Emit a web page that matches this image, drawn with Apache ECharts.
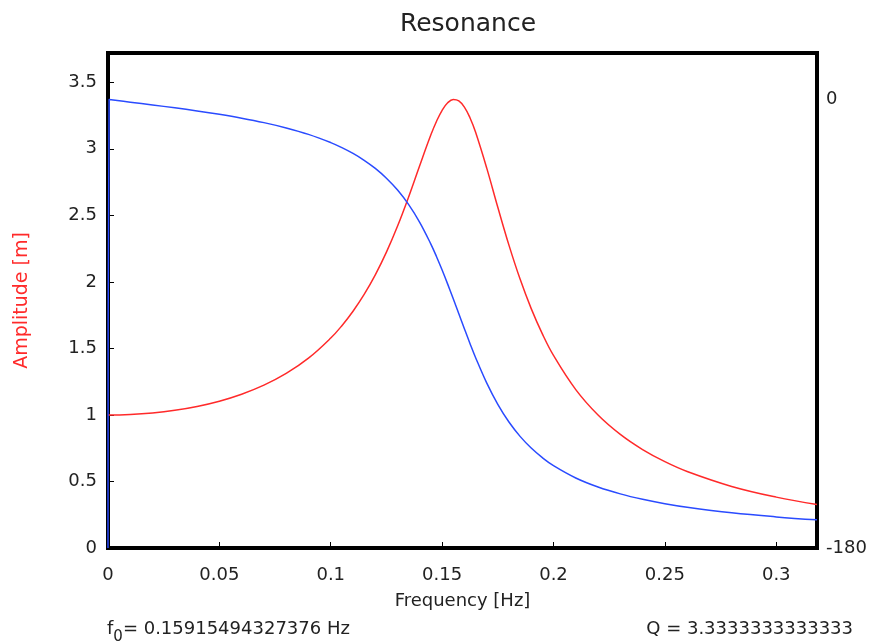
<!DOCTYPE html>
<html><head><meta charset="utf-8">
<script src="https://cdn.jsdelivr.net/npm/echarts@6/dist/echarts.min.js"></script>
<style>html,body{margin:0;padding:0;background:#fff}#c{width:875px;height:644px}</style>
</head><body><div id="c"></div>
<script>
var freq = [0, 0.0005, 0.01, 0.02, 0.03, 0.04, 0.05, 0.06, 0.07, 0.08, 0.09, 0.10, 0.105, 0.11, 0.115, 0.12, 0.125, 0.13, 0.135, 0.14, 0.145, 0.1475, 0.15, 0.1525, 0.155, 0.1575, 0.16, 0.1625, 0.165, 0.17, 0.175, 0.18, 0.185, 0.19, 0.195, 0.20, 0.21, 0.22, 0.23, 0.24, 0.25, 0.26, 0.28, 0.30, 0.3183];
var amplitude = [1.0, 1.0, 1.0038, 1.0153, 1.0351, 1.0640, 1.1035, 1.1557, 1.2236, 1.3116, 1.4264, 1.5776, 1.6710, 1.7795, 1.9056, 2.0525, 2.2232, 2.4195, 2.6403, 2.8770, 3.1070, 3.2073, 3.2893, 3.3457, 3.3707, 3.3602, 3.3137, 3.2337, 3.1261, 2.8567, 2.5607, 2.2762, 2.0207, 1.7988, 1.6090, 1.4471, 1.1903, 0.9993, 0.8536, 0.7397, 0.6488, 0.5750, 0.4628, 0.3824, 0.3269];
var phase = [-180, -0.05, -1.08, -2.19, -3.36, -4.60, -5.97, -7.51, -9.29, -11.41, -14.00, -17.30, -19.31, -21.65, -24.40, -27.66, -31.59, -36.36, -42.21, -49.40, -58.13, -63.09, -68.44, -74.10, -80.00, -86.01, -92.02, -97.90, -103.52, -113.74, -122.36, -129.45, -135.20, -139.89, -143.74, -146.94, -151.89, -155.52, -158.28, -160.45, -162.20, -163.63, -165.86, -167.51, -168.69];
var xTicks = [0, 0.05, 0.1, 0.15, 0.2, 0.25, 0.3];
var f0Text = '0.15915494327376';
var qText = '3.3333333333333';

var ampData = freq.map(function(f, i){ return [f, amplitude[i]]; });
var phaseData = freq.map(function(f, i){ return [f, phase[i]]; });
var peak = Math.max.apply(null, amplitude);
var leftMax = 3.72;
var rightMax = -180 + 180 * leftMax / peak;
var FONT = 'DejaVu Sans, sans-serif';

var chart = echarts.init(document.getElementById('c'));
chart.setOption({
  animation: false,
  backgroundColor: '#fff',
  title: { text: 'Resonance', left: 463, textAlign: 'center', top: 7,
    textStyle: { fontFamily: FONT, fontSize: 25, fontWeight: 'normal', color: '#222' } },
  grid: { left: 108, right: 58, top: 53, bottom: 96, containLabel: false, outerBoundsMode: 'none',
    show: true, borderColor: '#000', borderWidth: 4, backgroundColor: 'transparent', z: 1 },
  xAxis: {
    type: 'value', min: 0, max: 0.3183, interval: 0.05,
    name: 'Frequency [Hz]', nameLocation: 'middle', nameGap: 44,
    nameTextStyle: { fontFamily: FONT, fontSize: 18, color: '#222' },
    axisLine: { show: false },
    axisTick: { show: true, inside: true, length: 6, lineStyle: { color: '#000' }, customValues: xTicks },
    axisLabel: { fontFamily: FONT, fontSize: 18, color: '#222', margin: 18, customValues: xTicks },
    splitLine: { show: false }
  },
  yAxis: [{
    type: 'value', min: 0, max: leftMax, interval: 0.5, position: 'left',
    name: 'Amplitude [m]', nameLocation: 'middle', nameGap: 76, nameRotate: 90,
    nameTextStyle: { fontFamily: FONT, fontSize: 19, color: '#ff2a2a' },
    axisLine: { show: false },
    axisTick: { show: true, inside: true, length: 6, lineStyle: { color: '#000' } },
    axisLabel: { fontFamily: FONT, fontSize: 18, color: '#222', margin: 11, showMaxLabel: false, formatter: function(v){ return String(v); } },
    splitLine: { show: false }
  }, {
    type: 'value', min: -180, max: rightMax, interval: 180, position: 'right',
    name: 'Phase [deg]', nameLocation: 'middle', nameGap: 36, nameRotate: -90,
    nameTextStyle: { fontFamily: FONT, fontSize: 19, color: '#2a4bff' },
    axisLine: { show: false },
    axisTick: { show: false },
    axisLabel: { fontFamily: FONT, fontSize: 18, color: '#222', margin: 9, showMaxLabel: false },
    splitLine: { show: false }
  }],
  series: [{
    type: 'line', name: 'Amplitude', data: ampData, yAxisIndex: 0, showSymbol: false,
    smooth: 0.4, lineStyle: { color: '#ff2a2a', width: 1.5 }, z: 5
  }, {
    type: 'line', name: 'Phase', data: phaseData, yAxisIndex: 1, showSymbol: false,
    smooth: 0.4, lineStyle: { color: '#2a4bff', width: 1.5 }, z: 5
  }],
  graphic: [{
    type: 'text', left: 107, top: 620,
    style: { text: 'f{s|0}= ' + f0Text + ' Hz', font: '18px ' + FONT, fill: '#222',
      rich: { s: { fontSize: 15, fontFamily: FONT, fill: '#222', verticalAlign: 'bottom', padding: [16, 0, 0, 0] } } }
  }, {
    type: 'text', right: 22, top: 620,
    style: { text: 'Q = ' + qText, font: '18px ' + FONT, fill: '#222' }
  }]
});
</script></body></html>
